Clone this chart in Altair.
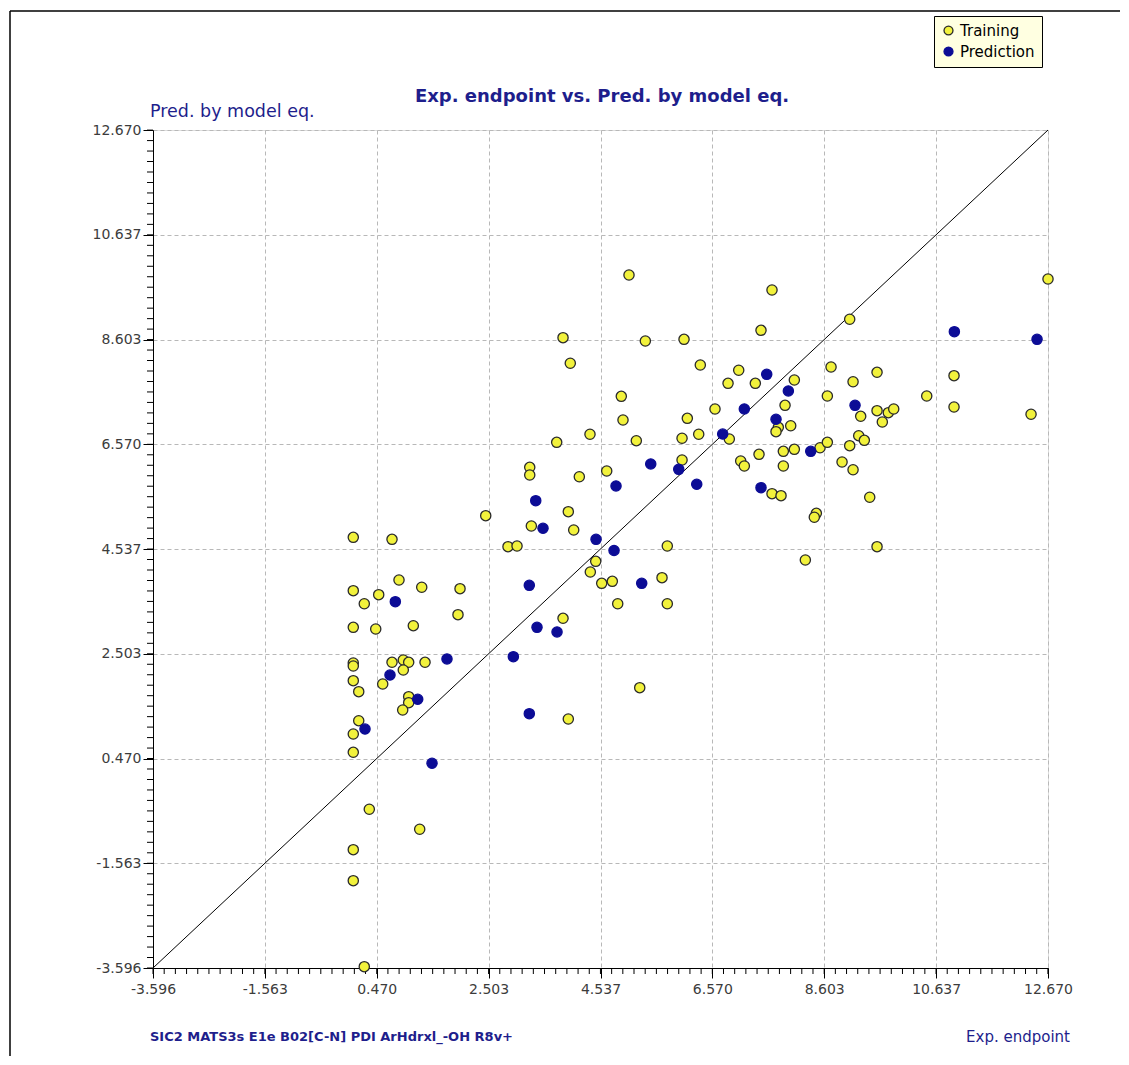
import altair as alt
import pandas as pd

# ---- data ----
train_x = [2.451, 0.044, 0.748, 0.875, 1.288, 1.984, 0.044, 0.506, 0.244, 1.947,
           1.135, 0.044, 0.452, 0.044, 0.044, 0.748, 0.953, 1.051, 1.348, 0.953,
           0.044, 0.579, 0.143, 1.051, 1.051, 0.942, 0.143, 0.044, 0.044, 0.335,
           1.251, 0.044, 0.044, 0.244, 5.055, 7.654, 7.454, 3.856, 5.352, 6.055,
           3.988, 6.351, 7.049, 6.855, 7.351, 8.060, 4.915, 7.891, 6.618, 4.946,
           6.115, 7.769, 7.727, 7.994, 4.346, 5.188, 6.322, 6.019, 6.878, 3.741,
           7.860, 8.060, 7.418, 7.085, 7.151, 7.860, 6.019, 3.251, 3.251, 4.152,
           4.650, 7.654, 7.818, 3.952, 3.280, 4.050, 2.856, 3.020, 5.751, 4.450,
           4.352, 4.559, 4.752, 5.655, 4.850, 5.751, 3.856, 5.250, 3.952, 12.670,
           9.066, 8.727, 9.563, 10.962, 9.127, 8.660, 10.466, 9.266, 9.563, 9.768,
           9.866, 9.659, 10.962, 12.362, 8.527, 8.660, 9.066, 9.230, 9.332, 8.927,
           9.127, 9.430, 8.460, 8.423, 9.563, 8.260]
train_y = [5.184, 4.764, 4.725, 3.935, 3.794, 3.767, 3.728, 3.650, 3.475, 3.262,
           3.048, 3.017, 2.984, 2.324, 2.266, 2.338, 2.383, 2.338, 2.338, 2.189,
           1.981, 1.917, 1.767, 1.670, 1.554, 1.412, 1.204, 0.946, 0.591, -0.515,
           -0.903, -1.299, -1.901, -3.570, 9.856, 9.564, 8.782, 8.639, 8.574, 8.607,
           8.142, 8.109, 8.006, 7.753, 7.753, 7.817, 7.501, 7.326, 7.255, 7.041,
           7.074, 6.899, 6.814, 6.930, 6.764, 6.639, 6.764, 6.686, 6.672, 6.608,
           6.433, 6.472, 6.375, 6.245, 6.148, 6.148, 6.265, 6.123, 5.974, 5.940,
           6.051, 5.611, 5.572, 5.261, 4.984, 4.906, 4.582, 4.595, 4.595, 4.298,
           4.091, 3.871, 3.910, 3.980, 3.475, 3.475, 3.192, 1.845, 1.237, 9.778,
           8.996, 8.070, 7.967, 7.901, 7.784, 7.507, 7.507, 7.113, 7.222, 7.183,
           7.255, 7.002, 7.293, 7.152, 6.503, 6.608, 6.542, 6.736, 6.647, 6.226,
           6.076, 5.541, 5.230, 5.153, 4.582, 4.324]

pred_x = [0.808, 1.747, 0.711, 1.215, 0.257, 1.475, 7.558, 7.951, 7.151, 7.727,
          6.758, 5.450, 5.959, 4.819, 6.286, 7.454, 3.360, 3.492, 4.456, 4.783,
          5.286, 3.243, 3.383, 3.747, 2.953, 3.243, 10.968, 12.471, 9.163, 8.358]
pred_y = [3.514, 2.402, 2.091, 1.620, 1.043, 0.378, 7.928, 7.604, 7.255, 7.055,
          6.769, 6.187, 6.084, 5.760, 5.793, 5.727, 5.475, 4.939, 4.725, 4.508,
          3.871, 3.832, 3.017, 2.926, 2.447, 1.340, 8.755, 8.607, 7.326, 6.433]

series_names = ["Training", "Prediction"]
tick_values = [-3.596, -1.563, 0.470, 2.503, 4.537, 6.570, 8.603, 10.637, 12.670]
minor_values = [round(tick_values[0] + i * (tick_values[1] - tick_values[0]) / 10, 4)
                for i in range(81)]
axis_min, axis_max = tick_values[0], tick_values[-1]

chart_title = "Exp. endpoint vs. Pred. by model eq."
y_title = "Pred. by model eq."
x_title = "Exp. endpoint"
descriptors = "SIC2 MATS3s E1e B02[C-N] PDI ArHdrxl_-OH R8v+"

# ---- tables ----
df = pd.concat([
    pd.DataFrame({"x": train_x, "y": train_y, "set": series_names[0], "o": 0}),
    pd.DataFrame({"x": pred_x, "y": pred_y, "set": series_names[1], "o": 1}),
], ignore_index=True)
diag = pd.DataFrame({"x": [axis_min, axis_max], "y": [axis_min, axis_max]})
minor_df = pd.DataFrame({"v": minor_values})

W, H = 895, 838
NAVY = "#1e1e8c"
FONT = "DejaVu Sans"

scale = alt.Scale(domain=[axis_min, axis_max], nice=False, zero=False)
label_expr = "(datum.value < 0 ? '-' : '') + format(abs(datum.value), '.3f')"

major_x = alt.Axis(values=tick_values, labelExpr=label_expr, orient="bottom",
                   tickSize=10, tickColor="black", domainColor="black", grid=True,
                   gridColor="#b8b8b8", gridDash=[4, 3], labelFont=FONT,
                   labelFontSize=14, labelColor="#3c3c3c", labelPadding=4,
                   labelFlush=False, title=None)
major_y = alt.Axis(values=tick_values, labelExpr=label_expr, orient="left",
                   tickSize=10, tickColor="black", domainColor="black", grid=True,
                   gridColor="#b8b8b8", gridDash=[4, 3], labelFont=FONT,
                   labelFontSize=14, labelColor="#3c3c3c", labelPadding=2,
                   labelFlush=False, title=None)

line = alt.Chart(diag).mark_line(color="black", strokeWidth=1).encode(
    x=alt.X("x:Q", scale=scale, axis=None),
    y=alt.Y("y:Q", scale=scale, axis=None),
)

minor_x = alt.Chart(minor_df).mark_tick(orient="vertical", size=6, thickness=1,
                                        color="black", opacity=1).encode(
    x=alt.X("v:Q", scale=scale, axis=None),
    y=alt.value(H + 3),
)
minor_y = alt.Chart(minor_df).mark_tick(orient="horizontal", size=6, thickness=1,
                                        color="black", opacity=1).encode(
    y=alt.Y("v:Q", scale=scale, axis=None),
    x=alt.value(-3),
)

legend_cfg = dict(orient="none", legendX=781, legendY=-114, title=None,
                  fillColor="#ffffe1", strokeColor="black", padding=7,
                  labelFont=FONT, labelFontSize=15, labelColor="black",
                  symbolSize=80, symbolStrokeWidth=1.3, rowPadding=5,
                  labelOffset=4)

points = alt.Chart(df).mark_point(shape="circle", filled=True, size=105,
                                  strokeWidth=1.3, opacity=1).encode(
    x=alt.X("x:Q", scale=scale, axis=major_x),
    y=alt.Y("y:Q", scale=scale, axis=major_y),
    fill=alt.Fill("set:N", scale=alt.Scale(domain=series_names,
                                           range=["#f2f23c", "#0c0c96"]),
                  legend=alt.Legend(**legend_cfg)),
    stroke=alt.Stroke("set:N", scale=alt.Scale(domain=series_names,
                                               range=["#2a2a2a", "#0c0c96"]),
                      legend=alt.Legend(**legend_cfg)),
    order=alt.Order("o:Q"),
)

one = pd.DataFrame({"t": [0]})


def label(text, x, y, align, size, weight="normal"):
    return alt.Chart(one).mark_text(text=text, align=align, baseline="middle",
                                    font=FONT, fontSize=size, fontWeight=weight,
                                    color=NAVY).encode(x=alt.value(x), y=alt.value(y))


texts = [
    label(chart_title, 449, -33, "center", 18, "bold"),
    label(y_title, -3, -18, "left", 17.5),
    label(descriptors, -3, 907, "left", 13, "bold"),
    label(x_title, 917, 907, "right", 15),
]

border_top = alt.Chart(one).mark_rule(color="black", strokeWidth=1.5).encode(
    x=alt.value(-143), x2=alt.value(990), y=alt.value(-119))
border_left = alt.Chart(one).mark_rule(color="black", strokeWidth=1.5).encode(
    x=alt.value(-143), y=alt.value(-119), y2=alt.value(935))

chart = alt.layer(line, minor_x, minor_y, points, *texts, border_top,
                  border_left).resolve_axis(
    x="independent", y="independent"
).properties(
    width=W, height=H,
    autosize=alt.AutoSizeParams(type="none"),
    padding={"left": 145, "top": 122, "right": 72, "bottom": 88},
).configure_view(stroke=None).configure(background="white")

chart.save("out.html", embed_options={"renderer": "svg", "actions": False})
